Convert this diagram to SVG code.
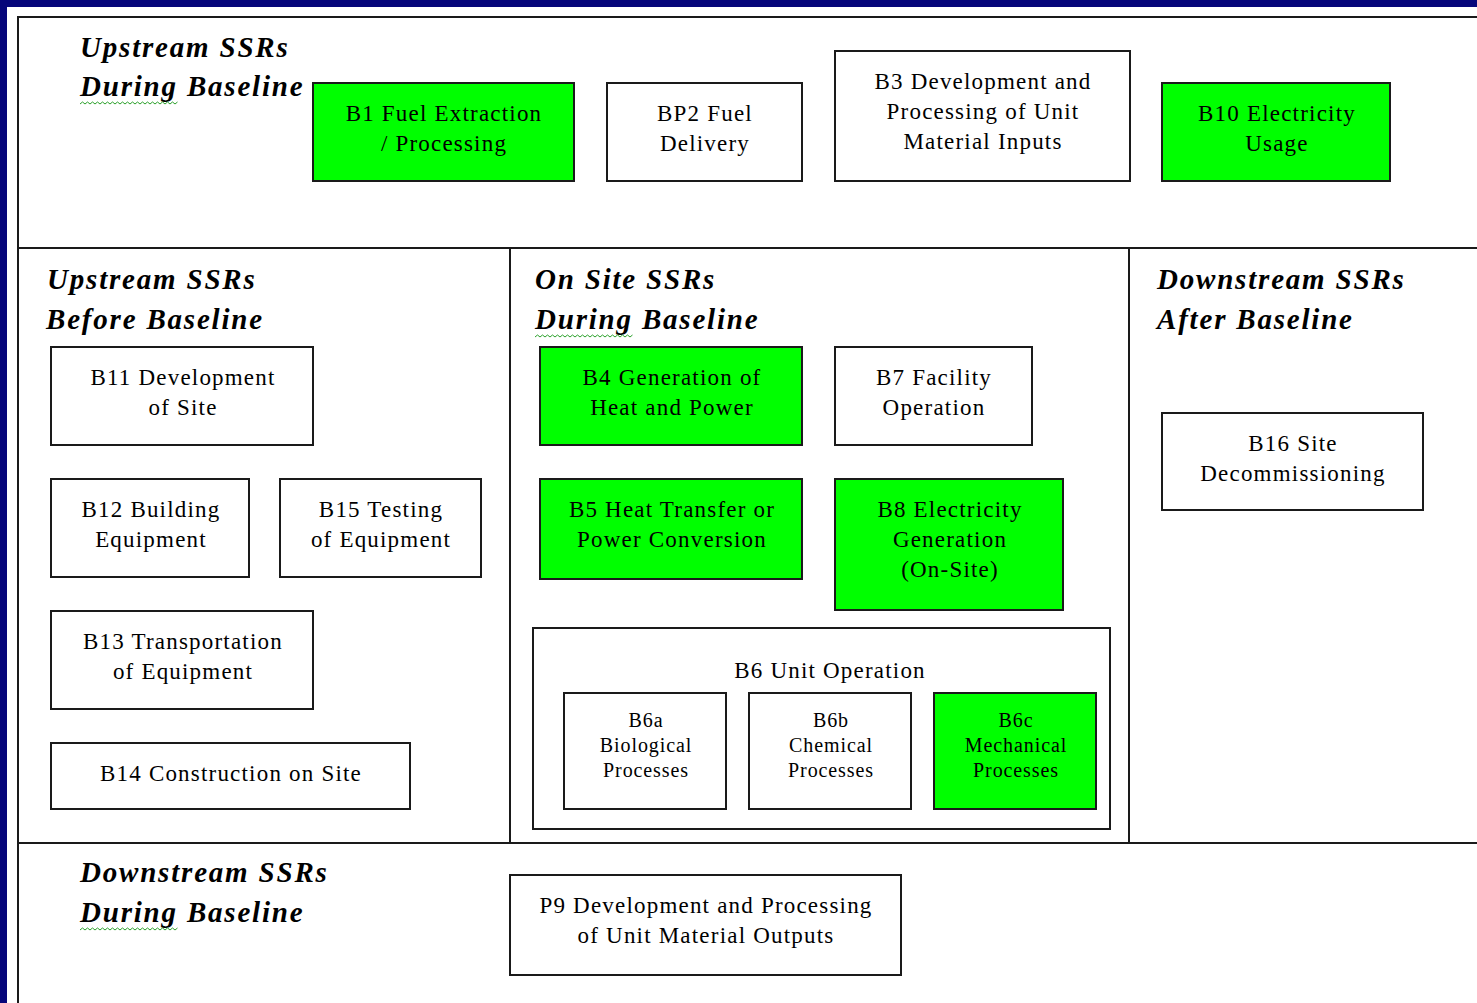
<svg xmlns="http://www.w3.org/2000/svg" width="1477" height="1003" viewBox="0 0 1477 1003">
<style>
.bx{fill:#fff;stroke:#1a1a1a;stroke-width:2}
.g{fill:#00ff00}
.t{font-family:"Liberation Serif","Times New Roman","DejaVu Serif",serif;font-size:23px;letter-spacing:1.2px;fill:#000;text-anchor:middle}
.s{font-family:"Liberation Serif","Times New Roman","DejaVu Serif",serif;font-size:20px;letter-spacing:0.9px;fill:#000;text-anchor:middle}
.h{font-family:"Liberation Serif","Times New Roman","DejaVu Serif",serif;font-size:29px;letter-spacing:1.8px;font-weight:bold;font-style:italic;fill:#000}
.ln{stroke:#1a1a1a;stroke-width:2;fill:none}
.sq{stroke:#2aa02a;stroke-width:1;fill:none}
</style>
<rect x="0" y="0" width="1477" height="1003" fill="#fff"/>
<rect x="0" y="0" width="1477" height="7" fill="#06067a"/>
<rect x="0" y="0" width="7" height="1003" fill="#06067a"/>
<g id="frame">
<path class="ln" d="M18 1003 V17 H1477"/>
<path class="ln" d="M18 248 H1477 M18 843 H1477 M510 248 V843 M1129 248 V843"/>
</g>
<g id="headers">
<text class="h" x="80" y="57">Upstream SSRs</text>
<text class="h" x="80" y="96">During Baseline</text>
<text class="h" x="47" y="289">Upstream SSRs</text>
<text class="h" x="46" y="329">Before Baseline</text>
<text class="h" x="535" y="289">On Site SSRs</text>
<text class="h" x="535" y="329">During Baseline</text>
<text class="h" x="1157" y="289">Downstream SSRs</text>
<text class="h" x="1157" y="329">After Baseline</text>
<text class="h" x="80" y="882">Downstream SSRs</text>
<text class="h" x="80" y="922">During Baseline</text>
<path class="sq" d="M80 104 l2.5 -2 l2.5 2 l2.5 -2 l2.5 2 l2.5 -2 l2.5 2 l2.5 -2 l2.5 2 l2.5 -2 l2.5 2 l2.5 -2 l2.5 2 l2.5 -2 l2.5 2 l2.5 -2 l2.5 2 l2.5 -2 l2.5 2 l2.5 -2 l2.5 2 l2.5 -2 l2.5 2 l2.5 -2 l2.5 2 l2.5 -2 l2.5 2 l2.5 -2 l2.5 2 l2.5 -2 l2.5 2 l2.5 -2 l2.5 2 l2.5 -2 l2.5 2 l2.5 -2 l2.5 2 l2.5 -2 l2.5 2 l2.5 -2"/>
<path class="sq" d="M535 337 l2.5 -2 l2.5 2 l2.5 -2 l2.5 2 l2.5 -2 l2.5 2 l2.5 -2 l2.5 2 l2.5 -2 l2.5 2 l2.5 -2 l2.5 2 l2.5 -2 l2.5 2 l2.5 -2 l2.5 2 l2.5 -2 l2.5 2 l2.5 -2 l2.5 2 l2.5 -2 l2.5 2 l2.5 -2 l2.5 2 l2.5 -2 l2.5 2 l2.5 -2 l2.5 2 l2.5 -2 l2.5 2 l2.5 -2 l2.5 2 l2.5 -2 l2.5 2 l2.5 -2 l2.5 2 l2.5 -2 l2.5 2 l2.5 -2"/>
<path class="sq" d="M80 930 l2.5 -2 l2.5 2 l2.5 -2 l2.5 2 l2.5 -2 l2.5 2 l2.5 -2 l2.5 2 l2.5 -2 l2.5 2 l2.5 -2 l2.5 2 l2.5 -2 l2.5 2 l2.5 -2 l2.5 2 l2.5 -2 l2.5 2 l2.5 -2 l2.5 2 l2.5 -2 l2.5 2 l2.5 -2 l2.5 2 l2.5 -2 l2.5 2 l2.5 -2 l2.5 2 l2.5 -2 l2.5 2 l2.5 -2 l2.5 2 l2.5 -2 l2.5 2 l2.5 -2 l2.5 2 l2.5 -2 l2.5 2 l2.5 -2"/>
</g>
<g id="connectors"></g>
<g id="B1"><rect class="bx g" x="313" y="83" width="261" height="98"/><text class="t" x="444" y="121">B1 Fuel Extraction</text><text class="t" x="444" y="151">/ Processing</text></g>
<g id="BP2"><rect class="bx" x="607" y="83" width="195" height="98"/><text class="t" x="705" y="121">BP2 Fuel</text><text class="t" x="705" y="151">Delivery</text></g>
<g id="B3"><rect class="bx" x="835" y="51" width="295" height="130"/><text class="t" x="983" y="89">B3 Development and</text><text class="t" x="983" y="119">Processing of Unit</text><text class="t" x="983" y="149">Material Inputs</text></g>
<g id="B10"><rect class="bx g" x="1162" y="83" width="228" height="98"/><text class="t" x="1277" y="121">B10 Electricity</text><text class="t" x="1277" y="151">Usage</text></g>
<g id="B11"><rect class="bx" x="51" y="347" width="262" height="98"/><text class="t" x="183" y="385">B11 Development</text><text class="t" x="183" y="415">of Site</text></g>
<g id="B12"><rect class="bx" x="51" y="479" width="198" height="98"/><text class="t" x="151" y="517">B12 Building</text><text class="t" x="151" y="547">Equipment</text></g>
<g id="B15"><rect class="bx" x="280" y="479" width="201" height="98"/><text class="t" x="381" y="517">B15 Testing</text><text class="t" x="381" y="547">of Equipment</text></g>
<g id="B13"><rect class="bx" x="51" y="611" width="262" height="98"/><text class="t" x="183" y="649">B13 Transportation</text><text class="t" x="183" y="679">of Equipment</text></g>
<g id="B14"><rect class="bx" x="51" y="743" width="359" height="66"/><text class="t" x="231" y="781">B14 Construction on Site</text></g>
<g id="B4"><rect class="bx g" x="540" y="347" width="262" height="98"/><text class="t" x="672" y="385">B4 Generation of</text><text class="t" x="672" y="415">Heat and Power</text></g>
<g id="B7"><rect class="bx" x="835" y="347" width="197" height="98"/><text class="t" x="934" y="385">B7 Facility</text><text class="t" x="934" y="415">Operation</text></g>
<g id="B5"><rect class="bx g" x="540" y="479" width="262" height="100"/><text class="t" x="672" y="517">B5 Heat Transfer or</text><text class="t" x="672" y="547">Power Conversion</text></g>
<g id="B8"><rect class="bx g" x="835" y="479" width="228" height="131"/><text class="t" x="950" y="517">B8 Electricity</text><text class="t" x="950" y="547">Generation</text><text class="t" x="950" y="577">(On-Site)</text></g>
<g id="B6"><rect class="bx" x="533" y="628" width="577" height="201"/><text class="t" x="830" y="678">B6 Unit Operation</text></g>
<g id="B6a"><rect class="bx" x="564" y="693" width="162" height="116"/><text class="s" x="646" y="727">B6a</text><text class="s" x="646" y="752">Biological</text><text class="s" x="646" y="777">Processes</text></g>
<g id="B6b"><rect class="bx" x="749" y="693" width="162" height="116"/><text class="s" x="831" y="727">B6b</text><text class="s" x="831" y="752">Chemical</text><text class="s" x="831" y="777">Processes</text></g>
<g id="B6c"><rect class="bx g" x="934" y="693" width="162" height="116"/><text class="s" x="1016" y="727">B6c</text><text class="s" x="1016" y="752">Mechanical</text><text class="s" x="1016" y="777">Processes</text></g>
<g id="B16"><rect class="bx" x="1162" y="413" width="261" height="97"/><text class="t" x="1293" y="451">B16 Site</text><text class="t" x="1293" y="481">Decommissioning</text></g>
<g id="P9"><rect class="bx" x="510" y="875" width="391" height="100"/><text class="t" x="706" y="913">P9 Development and Processing</text><text class="t" x="706" y="943">of Unit Material Outputs</text></g>
</svg>
